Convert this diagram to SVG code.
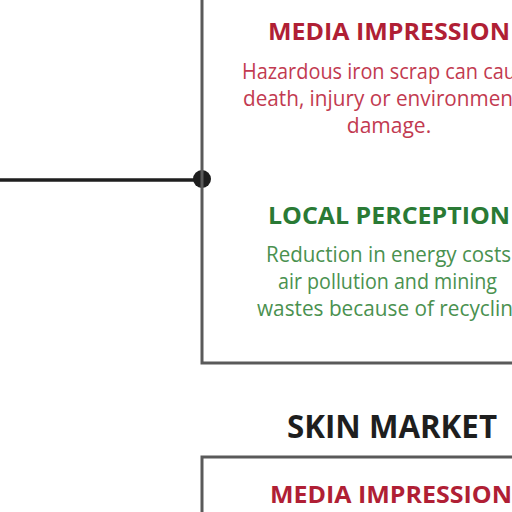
<svg xmlns="http://www.w3.org/2000/svg" width="512" height="512" viewBox="0 0 512 512">
<style>
.box{fill:none;stroke:#5a5a5a;stroke-width:3}
.h{font-family:"Open Sans","Liberation Sans",sans-serif;font-weight:700;font-size:24px}
.b{font-family:"Open Sans","Liberation Sans",sans-serif;font-size:21px}
.red{fill:#b01f35}
.redb{fill:#c23a50}
.grn{fill:#2a7a35}
.grnb{fill:#4a914f}
</style>
<rect width="512" height="512" fill="#ffffff"/>
<g id="connectors">
<line x1="0" y1="180" x2="202" y2="180" stroke="#1e1e1e" stroke-width="3.5"/>
<circle cx="202" cy="179" r="9" fill="#1e1e1e"/>
</g>
<g id="iron-box">
<path class="box" d="M202,-5 V363 H520"/>
<text class="h red" x="268" y="40" textLength="242" lengthAdjust="spacingAndGlyphs">MEDIA IMPRESSION</text>
<text class="b redb" x="242" y="79" textLength="274" lengthAdjust="spacingAndGlyphs">Hazardous iron scrap can cau</text>
<text class="b redb" x="243" y="106" textLength="270" lengthAdjust="spacingAndGlyphs">death, injury or environmen</text>
<text class="b redb" x="389" y="133" text-anchor="middle">damage.</text>
<text class="h grn" x="268" y="224" textLength="242" lengthAdjust="spacingAndGlyphs">LOCAL PERCEPTION</text>
<text class="b grnb" x="266" y="262" textLength="245" lengthAdjust="spacingAndGlyphs">Reduction in energy costs</text>
<text class="b grnb" x="278" y="289" textLength="219" lengthAdjust="spacingAndGlyphs">air pollution and mining</text>
<text class="b grnb" x="257" y="316" textLength="256" lengthAdjust="spacingAndGlyphs">wastes because of recyclin</text>
</g>
<g id="skin-title">
<text x="392" y="438" text-anchor="middle" font-family="Open Sans, Liberation Sans, sans-serif" font-weight="700" font-size="32" fill="#1e1e1e" textLength="210" lengthAdjust="spacingAndGlyphs">SKIN MARKET</text>
</g>
<g id="skin-box">
<path class="box" d="M202,520 V457 H520"/>
<text class="h red" x="270" y="503" textLength="242" lengthAdjust="spacingAndGlyphs">MEDIA IMPRESSION</text>
</g>
</svg>
